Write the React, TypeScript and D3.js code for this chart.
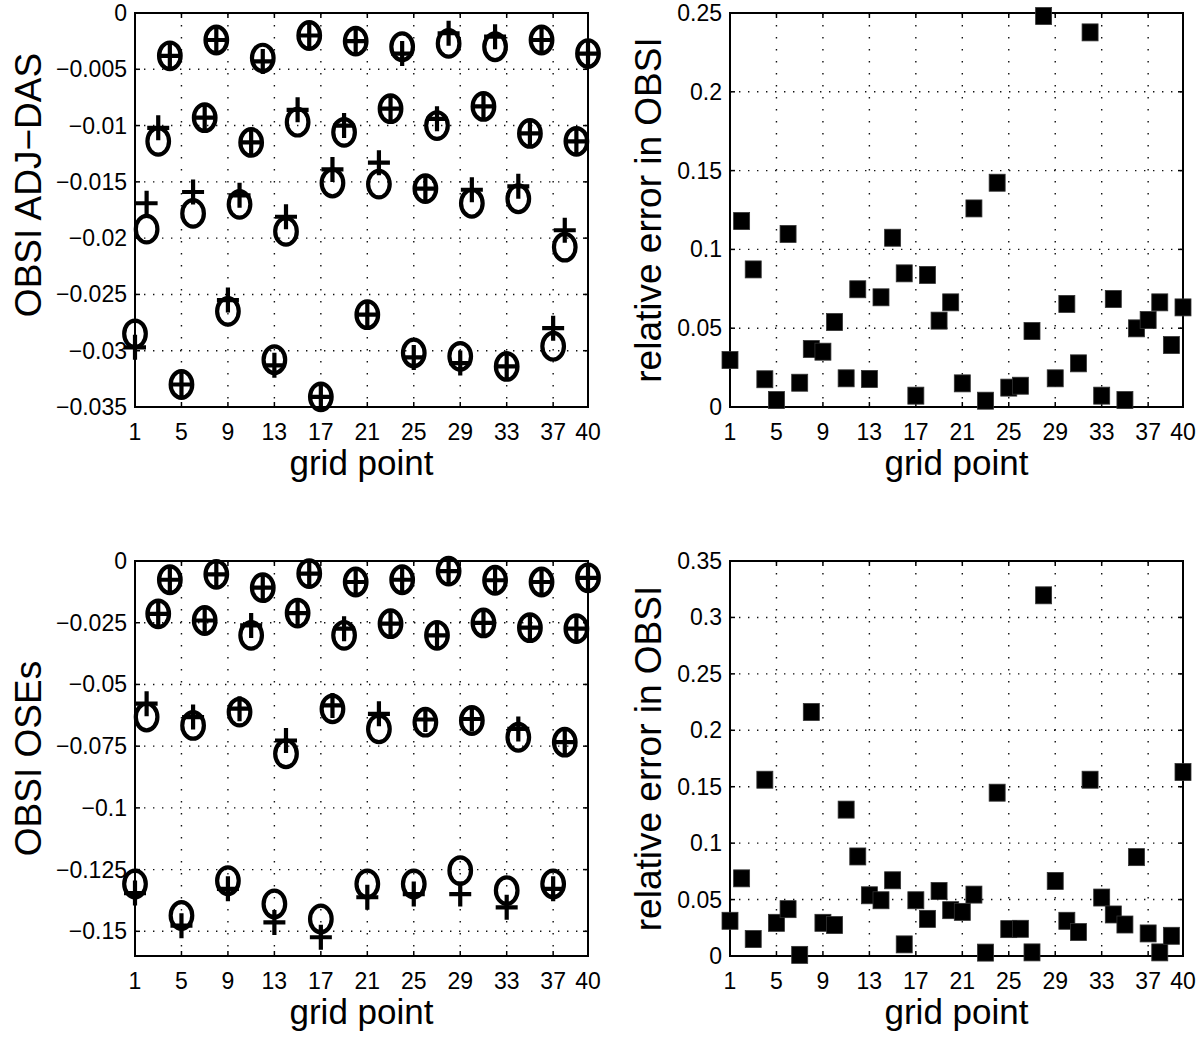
import React from 'react';
import * as d3 from 'd3';

// ---------- data ----------
const gridPoints = [1, 2, 3, 4, 5, 6, 7, 8, 9, 10, 11, 12, 13, 14, 15, 16, 17, 18, 19, 20,
  21, 22, 23, 24, 25, 26, 27, 28, 29, 30, 31, 32, 33, 34, 35, 36, 37, 38, 39, 40];
const xTickValues = [1, 5, 9, 13, 17, 21, 25, 29, 33, 37, 40];

// top-left: OBSI ADJ-DAS (circles and pluses)
const adjCircle = [-0.0285, -0.0192, -0.0114, -0.0038, -0.0330, -0.0178, -0.0093, -0.0024, -0.0265, -0.0170,
  -0.0115, -0.0040, -0.0308, -0.0194, -0.0097, -0.0020, -0.0341, -0.0151, -0.0106, -0.0025,
  -0.0268, -0.0152, -0.0085, -0.0030, -0.0302, -0.0156, -0.0100, -0.0027, -0.0305, -0.0169,
  -0.0083, -0.0030, -0.0314, -0.0165, -0.0107, -0.0024, -0.0296, -0.0208, -0.0114, -0.0036];
const adjPlus = [-0.0297, -0.0169, -0.0102, -0.0038, -0.0330, -0.0159, -0.0093, -0.0024, -0.0255, -0.0162,
  -0.0115, -0.0043, -0.0313, -0.0181, -0.0086, -0.0020, -0.0341, -0.0139, -0.0100, -0.0025,
  -0.0268, -0.0133, -0.0085, -0.0036, -0.0306, -0.0156, -0.0094, -0.0018, -0.0311, -0.0157,
  -0.0083, -0.0021, -0.0314, -0.0154, -0.0107, -0.0024, -0.0280, -0.0193, -0.0114, -0.0036];

// top-right: relative error (ADJ-DAS)
const relErrAdj = [0.0298, 0.1180, 0.0873, 0.0176, 0.0044, 0.1098, 0.0154, 0.0368, 0.0351, 0.0539,
  0.0182, 0.0747, 0.0178, 0.0696, 0.1074, 0.0848, 0.0072, 0.0838, 0.0548, 0.0664,
  0.0150, 0.1260, 0.0040, 0.1423, 0.0123, 0.0135, 0.0482, 0.2481, 0.0182, 0.0654,
  0.0277, 0.2377, 0.0072, 0.0685, 0.0044, 0.0499, 0.0552, 0.0664, 0.0393, 0.0632];

// bottom-left: OBSI OSEs (circles and pluses)
const oseCircle = [-0.1308, -0.0632, -0.0214, -0.0076, -0.1436, -0.0666, -0.0241, -0.0054, -0.1295, -0.0612,
  -0.0301, -0.0108, -0.1389, -0.0781, -0.0211, -0.0051, -0.1450, -0.0599, -0.0301, -0.0085,
  -0.1308, -0.0680, -0.0254, -0.0076, -0.1308, -0.0653, -0.0301, -0.0041, -0.1254, -0.0646,
  -0.0251, -0.0078, -0.1335, -0.0714, -0.0270, -0.0085, -0.1308, -0.0734, -0.0274, -0.0068];
const osePlus = [-0.1345, -0.0578, -0.0214, -0.0076, -0.1477, -0.0632, -0.0241, -0.0054, -0.1328, -0.0598,
  -0.0261, -0.0108, -0.1464, -0.0727, -0.0211, -0.0051, -0.1524, -0.0585, -0.0274, -0.0085,
  -0.1362, -0.0619, -0.0254, -0.0076, -0.1349, -0.0642, -0.0301, -0.0041, -0.1349, -0.0640,
  -0.0251, -0.0078, -0.1403, -0.0680, -0.0270, -0.0085, -0.1328, -0.0734, -0.0274, -0.0068];

// bottom-right: relative error (OSEs)
const relErrOse = [0.0312, 0.0688, 0.0150, 0.1562, 0.0294, 0.0415, 0.0010, 0.2162, 0.0294, 0.0274,
  0.1297, 0.0882, 0.0538, 0.0494, 0.0671, 0.0103, 0.0494, 0.0329, 0.0576, 0.0406,
  0.0391, 0.0544, 0.0030, 0.1447, 0.0238, 0.0241, 0.0032, 0.3196, 0.0665, 0.0312,
  0.0212, 0.1562, 0.0518, 0.0368, 0.0279, 0.0876, 0.0200, 0.0032, 0.0179, 0.1630];

const yTicksAdj = [0, -0.005, -0.01, -0.015, -0.02, -0.025, -0.03, -0.035];
const yTickLabelsAdj = ['0', '\u22120.005', '\u22120.01', '\u22120.015', '\u22120.02', '\u22120.025', '\u22120.03', '\u22120.035'];
const yTicksRelTop = [0, 0.05, 0.1, 0.15, 0.2, 0.25];
const yTickLabelsRelTop = ['0', '0.05', '0.1', '0.15', '0.2', '0.25'];
const yTicksOse = [0, -0.025, -0.05, -0.075, -0.1, -0.125, -0.15];
const yTickLabelsOse = ['0', '\u22120.025', '\u22120.05', '\u22120.075', '\u22120.1', '\u22120.125', '\u22120.15'];
const yTicksRelBot = [0, 0.05, 0.1, 0.15, 0.2, 0.25, 0.3, 0.35];
const yTickLabelsRelBot = ['0', '0.05', '0.1', '0.15', '0.2', '0.25', '0.3', '0.35'];

const xLabel = 'grid point';
const yLabels = ['OBSI ADJ\u2212DAS', 'relative error in OBSI', 'OBSI OSEs', 'relative error in OBSI'];

// ---------- layout ----------
const W = 1202;
const H = 1042;
const FONT = '"Liberation Sans", Arial, Helvetica, sans-serif';
const TICK_FS = 23;
const XLABEL_FS = 35;
const YLABEL_FS = 37;

type PanelProps = {
  x0: number; x1: number; y0: number; y1: number;
  yDomain: [number, number];
  yTicks: number[]; yTickLabels: string[];
  ylabel: string; ylabelX: number; ylabelY?: number;
  kind: 'markers' | 'squares';
  circle?: number[]; plus?: number[]; values?: number[];
};

function Panel(p: PanelProps) {
  const x = d3.scaleLinear().domain([1, 40]).range([p.x0, p.x1]);
  const y = d3.scaleLinear().domain(p.yDomain).range([p.y1, p.y0]);
  const tickLen = 5;
  const cy = p.ylabelY ?? (p.y0 + p.y1) / 2;
  const cx = (p.x0 + p.x1) / 2;
  return (
    <g>
      {/* grid */}
      {xTickValues.filter(t => t !== 1 && t !== 40).map(t => (
        <line key={'gx' + t} x1={x(t)} x2={x(t)} y1={p.y0} y2={p.y1}
          stroke="#111" strokeWidth={1.4} strokeDasharray="1.4 10.6" />
      ))}
      {p.yTicks.filter(t => t !== p.yDomain[0] && t !== p.yDomain[1]).map(t => (
        <line key={'gy' + t} x1={p.x0} x2={p.x1} y1={y(t)} y2={y(t)}
          stroke="#111" strokeWidth={1.4} strokeDasharray="1.4 7.6" />
      ))}
      {/* ticks */}
      {xTickValues.map(t => (
        <g key={'tx' + t}>
          <line x1={x(t)} x2={x(t)} y1={p.y1} y2={p.y1 - tickLen} stroke="#000" strokeWidth={1.5} />
          <line x1={x(t)} x2={x(t)} y1={p.y0} y2={p.y0 + tickLen} stroke="#000" strokeWidth={1.5} />
          <text x={x(t)} y={p.y1 + 33} textAnchor="middle" fontFamily={FONT} fontSize={TICK_FS}>{t}</text>
        </g>
      ))}
      {p.yTicks.map((t, i) => (
        <g key={'ty' + t}>
          <line x1={p.x0} x2={p.x0 + tickLen} y1={y(t)} y2={y(t)} stroke="#000" strokeWidth={1.5} />
          <line x1={p.x1} x2={p.x1 - tickLen} y1={y(t)} y2={y(t)} stroke="#000" strokeWidth={1.5} />
          <text x={p.x0 - 8} y={y(t) + 8} textAnchor="end" fontFamily={FONT} fontSize={TICK_FS}>{p.yTickLabels[i]}</text>
        </g>
      ))}
      {/* box */}
      <rect x={p.x0} y={p.y0} width={p.x1 - p.x0} height={p.y1 - p.y0} fill="none" stroke="#000" strokeWidth={2} />
      {/* labels */}
      <text x={cx} y={p.y1 + 68} textAnchor="middle" fontFamily={FONT} fontSize={XLABEL_FS}>{xLabel}</text>
      <text transform={`translate(${p.ylabelX},${cy}) rotate(-90)`} textAnchor="middle" fontFamily={FONT} fontSize={YLABEL_FS}>{p.ylabel}</text>
      {/* marks */}
      {p.kind === 'markers' && p.circle && p.plus && (
        <g>
          {gridPoints.map((g, i) => (
            <ellipse key={'c' + g} cx={x(g)} cy={y(p.circle![i])} rx={10.8} ry={13.3}
              fill="none" stroke="#000" strokeWidth={4.2} />
          ))}
          {gridPoints.map((g, i) => (
            <path key={'p' + g}
              d={`M${x(g) - 11},${y(p.plus![i])}H${x(g) + 11}M${x(g)},${y(p.plus![i]) - 12.5}V${y(p.plus![i]) + 12.5}`}
              fill="none" stroke="#000" strokeWidth={4.2} />
          ))}
        </g>
      )}
      {p.kind === 'squares' && p.values && (
        <g>
          {gridPoints.map((g, i) => (
            <rect key={'s' + g} x={x(g) - 8} y={y(p.values![i]) - 8.5} width={16} height={17}
              fill="#000" stroke="#333" strokeWidth={0.8} />
          ))}
        </g>
      )}
    </g>
  );
}

export default function App() {
  return (
    <svg width={W} height={H} viewBox={`0 0 ${W} ${H}`}
      style={{ position: 'absolute', left: 0, top: 0, background: '#fff' }}>
      <rect x={0} y={0} width={W} height={H} fill="#fff" />
      <Panel x0={135} x1={588} y0={13} y1={407} yDomain={[-0.035, 0]}
        yTicks={yTicksAdj} yTickLabels={yTickLabelsAdj} ylabel={yLabels[0]} ylabelX={41} ylabelY={185}
        kind="markers" circle={adjCircle} plus={adjPlus} />
      <Panel x0={730} x1={1183} y0={13} y1={407} yDomain={[0, 0.25]}
        yTicks={yTicksRelTop} yTickLabels={yTickLabelsRelTop} ylabel={yLabels[1]} ylabelX={661}
        kind="squares" values={relErrAdj} />
      <Panel x0={135} x1={588} y0={561} y1={956} yDomain={[-0.16, 0]}
        yTicks={yTicksOse} yTickLabels={yTickLabelsOse} ylabel={yLabels[2]} ylabelX={41}
        kind="markers" circle={oseCircle} plus={osePlus} />
      <Panel x0={730} x1={1183} y0={561} y1={956} yDomain={[0, 0.35]}
        yTicks={yTicksRelBot} yTickLabels={yTickLabelsRelBot} ylabel={yLabels[3]} ylabelX={661}
        kind="squares" values={relErrOse} />
    </svg>
  );
}
